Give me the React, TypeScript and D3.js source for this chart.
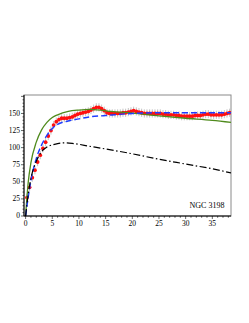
import React, { useEffect, useRef } from "react";
import * as d3 from "d3";

// observed rotation curve (red points)
const obsR = [
  0.25, 0.75, 1.25, 1.75, 2.25, 2.75, 3.25, 3.75, 4.25, 4.75, 5.25, 5.75, 6.25, 6.75,
  7.25, 7.75, 8.25, 8.75, 9.25, 9.75, 10.25, 10.75, 11.25, 11.75, 12.25, 12.75, 13.25,
  13.75, 14.25, 14.75, 15.25, 15.75, 16.25, 16.75, 17.25, 17.75, 18.25, 18.75, 19.25,
  19.75, 20.25, 20.75, 21.25, 21.75, 22.25, 22.75, 23.25, 23.75, 24.25, 24.75, 25.25,
  25.75, 26.25, 26.75, 27.25, 27.75, 28.25, 28.75, 29.25, 29.75, 30.25, 30.75, 31.25,
  31.75, 32.25, 32.75, 33.25, 33.75, 34.25, 34.75, 35.25, 35.75, 36.25, 36.75, 37.25,
  37.75, 38.25,
];
const obsV = [
  27, 42, 56, 67, 79, 89, 99, 108, 117, 125, 133, 138, 141, 143,
  143, 143, 144, 145, 147, 149, 150, 151, 152, 153, 155, 157, 159,
  159, 157, 154, 151, 150, 150, 150, 150, 150, 151, 151, 152,
  153, 154, 153, 152, 151, 150, 150, 150, 150, 150, 150, 150,
  149, 149, 148, 148, 148, 147, 147, 146, 146, 146, 146, 146,
  147, 147, 147, 148, 149, 149, 148, 148, 148, 148, 148, 149,
  150, 151,
];
const obsErr = 6;

// model curves
const greenR = [0, 0.5, 1, 2, 3, 4, 5, 6, 8, 10, 12, 14, 16, 20, 25, 30, 35, 38.5];
const greenV = [0, 50, 78, 108, 126, 137, 144, 148, 153, 155, 156, 155, 153, 150.5, 146.5, 143, 140, 137];

const blueR = [0, 0.5, 1, 2, 3, 4, 5, 6, 8, 10, 12, 15, 20, 25, 30, 38.5];
const blueV = [0, 28, 52, 84, 104, 118, 128, 134, 139, 142, 145, 147, 150, 151, 151, 151];

const blackR = [0, 0.5, 1, 2, 3, 4, 5, 6, 7.5, 9, 12, 15, 20, 25, 30, 35, 38.5];
const blackV = [0, 32, 55, 80, 94, 101, 104, 106, 107, 106, 102, 98, 91, 83, 76, 69, 63];

const xTicks = [0, 5, 10, 15, 20, 25, 30, 35];
const yTicks = [0, 25, 50, 75, 100, 125, 150];
const label = "NGC 3198";

const W = 249;
const H = 323;

export default function App() {
  const ref = useRef<SVGSVGElement>(null);

  useEffect(() => {
    const svg = d3.select(ref.current);
    svg.selectAll("*").remove();

    const x = d3.scaleLinear().domain([-0.3, 38.5]).range([24, 231]);
    const y = d3.scaleLinear().domain([0, 177]).range([216, 95]);
    const font = "'Liberation Serif', 'DejaVu Serif', serif";

    // frame
    svg
      .append("rect")
      .attr("x", 24)
      .attr("y", 95)
      .attr("width", 207)
      .attr("height", 121)
      .attr("fill", "none")
      .attr("stroke", "#8a8a8a")
      .attr("stroke-width", 1);

    const clip = svg.append("clipPath").attr("id", "plotclip");
    clip.append("rect").attr("x", 24).attr("y", 95).attr("width", 207).attr("height", 121);
    const plot = svg.append("g").attr("clip-path", "url(#plotclip)");

    // error bars
    plot
      .selectAll("line.err")
      .data(obsR)
      .join("line")
      .attr("class", "err")
      .attr("x1", (d) => x(d))
      .attr("x2", (d) => x(d))
      .attr("y1", (d, i) => y(obsV[i] - obsErr))
      .attr("y2", (d, i) => y(obsV[i] + obsErr))
      .attr("stroke", "#b4b4b4")
      .attr("stroke-width", 0.8);

    const line = d3
      .line<number>()
      .curve(d3.curveMonotoneX);

    const drawCurve = (rs: number[], vs: number[], color: string, dash: string | null, w: number) => {
      const p = plot
        .append("path")
        .attr(
          "d",
          line.x((d) => x(d)).y((d, i) => y(vs[i]))(rs)
        )
        .attr("fill", "none")
        .attr("stroke", color)
        .attr("stroke-width", w);
      if (dash) p.attr("stroke-dasharray", dash);
    };

    // points
    plot
      .selectAll("circle.obs")
      .data(obsR)
      .join("circle")
      .attr("class", "obs")
      .attr("cx", (d) => x(d))
      .attr("cy", (d, i) => y(obsV[i]))
      .attr("r", 1.9)
      .attr("fill", "#ff1010");

    drawCurve(greenR, greenV, "#4f8a1c", null, 1.3);
    drawCurve(blueR, blueV, "#1e3cff", "6,3", 1.4);
    drawCurve(blackR, blackV, "#000000", "7,2.5,1.5,2.5", 1.2);

    // axes
    const yAxis = svg.append("g");
    yAxis
      .append("line")
      .attr("x1", 24)
      .attr("x2", 24)
      .attr("y1", 95)
      .attr("y2", 216)
      .attr("stroke", "#000");
    d3.range(0, 176, 5).forEach((v) => {
      const major = v % 25 === 0;
      yAxis
        .append("line")
        .attr("x1", major ? 21 : 22.5)
        .attr("x2", 24)
        .attr("y1", y(v))
        .attr("y2", y(v))
        .attr("stroke", "#000")
        .attr("stroke-width", 0.6);
    });
    yAxis
      .selectAll("text")
      .data(yTicks)
      .join("text")
      .attr("x", 20)
      .attr("y", (d) => y(d))
      .attr("dy", "0.33em")
      .attr("text-anchor", "end")
      .attr("font-family", font)
      .attr("font-size", 7.5)
      .text((d) => d);

    const xAxis = svg.append("g");
    xAxis
      .append("line")
      .attr("x1", 24)
      .attr("x2", 231)
      .attr("y1", 216)
      .attr("y2", 216)
      .attr("stroke", "#000");
    d3.range(0, 39, 1).forEach((v) => {
      const major = v % 5 === 0;
      xAxis
        .append("line")
        .attr("x1", x(v))
        .attr("x2", x(v))
        .attr("y1", 216)
        .attr("y2", major ? 219 : 217.8)
        .attr("stroke", "#000")
        .attr("stroke-width", 0.6);
    });
    xAxis
      .selectAll("text")
      .data(xTicks)
      .join("text")
      .attr("x", (d) => x(d))
      .attr("y", 226)
      .attr("text-anchor", "middle")
      .attr("font-family", font)
      .attr("font-size", 7.5)
      .text((d) => d);

    svg
      .append("text")
      .attr("x", 207)
      .attr("y", 208)
      .attr("text-anchor", "middle")
      .attr("font-family", font)
      .attr("font-size", 8)
      .text(label);
  }, []);

  return (
    <svg
      ref={ref}
      width={W}
      height={H}
      style={{ position: "absolute", left: 0, top: 0, background: "#fff" }}
    />
  );
}
